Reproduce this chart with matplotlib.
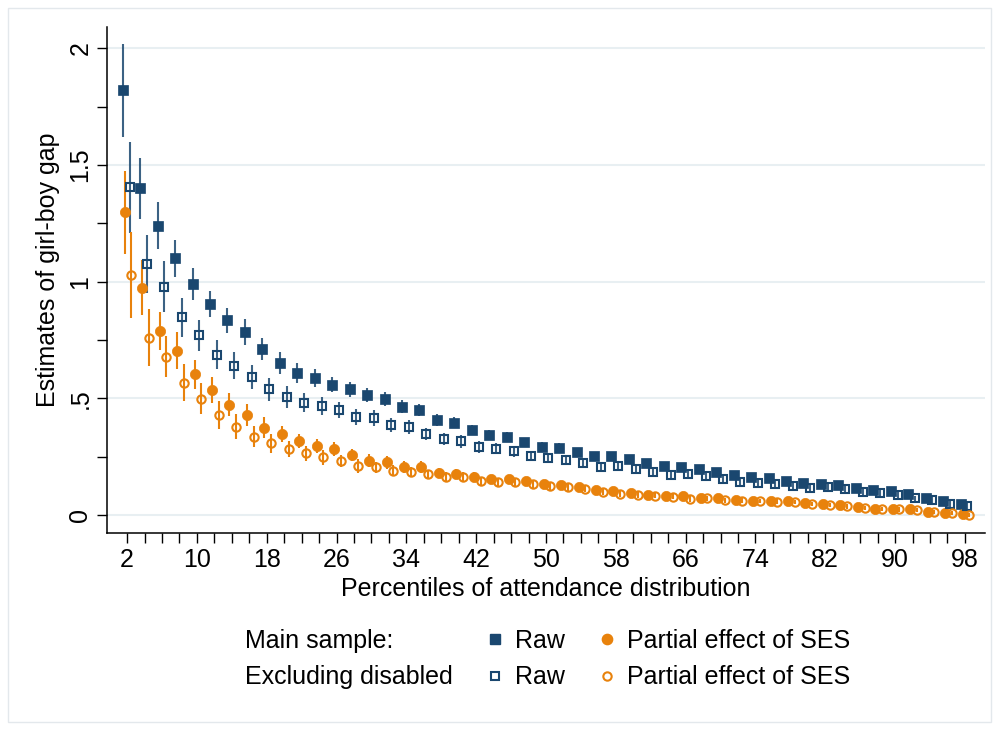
import matplotlib
matplotlib.use("Agg")
import matplotlib.pyplot as plt
from matplotlib.lines import Line2D
from matplotlib.patches import Rectangle
import numpy as np

plt.rcParams['font.family'] = ['Liberation Sans', 'DejaVu Sans']

percentiles = list(range(2, 100, 2))
xtick_labels = [2, 10, 18, 26, 34, 42, 50, 58, 66, 74, 82, 90, 98]

main_raw = [1.82, 1.40, 1.24, 1.10, 0.99, 0.905, 0.834, 0.783, 0.713, 0.653,
            0.61, 0.589, 0.559, 0.539, 0.516, 0.496, 0.464, 0.449, 0.407, 0.396,
            0.366, 0.344, 0.335, 0.313, 0.293, 0.289, 0.27, 0.253, 0.253, 0.24,
            0.222, 0.21, 0.206, 0.198, 0.186, 0.17, 0.164, 0.159, 0.147, 0.139,
            0.133, 0.13, 0.116, 0.106, 0.101, 0.089, 0.074, 0.06, 0.047]
main_raw_ci = [0.20, 0.13, 0.10, 0.08, 0.067, 0.056, 0.053, 0.056, 0.048, 0.047,
               0.043, 0.039, 0.033, 0.032, 0.030, 0.030, 0.027, 0.026, 0.024, 0.023,
               0.022, 0.021, 0.020, 0.019, 0.018, 0.018, 0.017, 0.016, 0.016, 0.015,
               0.015, 0.014, 0.014, 0.013, 0.013, 0.012, 0.012, 0.012, 0.011, 0.011,
               0.011, 0.010, 0.010, 0.010, 0.010, 0.009, 0.009, 0.009, 0.009]

main_ses = [1.297, 0.975, 0.789, 0.705, 0.604, 0.536, 0.473, 0.427, 0.375, 0.347,
            0.316, 0.297, 0.282, 0.257, 0.233, 0.226, 0.206, 0.206, 0.181, 0.176,
            0.164, 0.154, 0.153, 0.146, 0.134, 0.127, 0.12, 0.107, 0.101, 0.096,
            0.087, 0.083, 0.083, 0.075, 0.071, 0.064, 0.061, 0.06, 0.059, 0.051,
            0.047, 0.041, 0.036, 0.027, 0.027, 0.024, 0.014, 0.01, 0.003]
main_ses_ci = [0.178, 0.119, 0.083, 0.080, 0.062, 0.056, 0.050, 0.047, 0.046, 0.036,
               0.030, 0.029, 0.031, 0.027, 0.028, 0.028, 0.024, 0.024, 0.022, 0.020,
               0.019, 0.018, 0.017, 0.016, 0.016, 0.015, 0.014, 0.014, 0.013, 0.013,
               0.012, 0.012, 0.011, 0.011, 0.011, 0.010, 0.010, 0.010, 0.010, 0.009,
               0.009, 0.009, 0.009, 0.008, 0.008, 0.008, 0.008, 0.008, 0.008]

excl_raw = [1.406, 1.076, 0.979, 0.847, 0.771, 0.687, 0.64, 0.592, 0.539, 0.504,
            0.482, 0.467, 0.451, 0.421, 0.416, 0.384, 0.377, 0.348, 0.326, 0.316,
            0.291, 0.285, 0.273, 0.253, 0.243, 0.234, 0.222, 0.207, 0.21, 0.197,
            0.184, 0.173, 0.174, 0.167, 0.153, 0.143, 0.139, 0.133, 0.124, 0.114,
            0.121, 0.113, 0.1, 0.093, 0.086, 0.071, 0.064, 0.047, 0.039]
excl_raw_ci = [0.195, 0.124, 0.108, 0.083, 0.067, 0.062, 0.057, 0.052, 0.050, 0.047,
               0.041, 0.039, 0.034, 0.033, 0.033, 0.030, 0.031, 0.026, 0.027, 0.027,
               0.025, 0.024, 0.023, 0.022, 0.021, 0.020, 0.020, 0.019, 0.019, 0.018,
               0.018, 0.017, 0.017, 0.016, 0.016, 0.015, 0.015, 0.015, 0.014, 0.014,
               0.014, 0.013, 0.013, 0.013, 0.012, 0.012, 0.012, 0.012, 0.012]

excl_ses = [1.029, 0.76, 0.679, 0.567, 0.498, 0.429, 0.379, 0.336, 0.307, 0.283,
            0.264, 0.247, 0.23, 0.211, 0.204, 0.19, 0.183, 0.174, 0.164, 0.164,
            0.146, 0.141, 0.14, 0.131, 0.123, 0.12, 0.113, 0.1, 0.09, 0.086,
            0.083, 0.079, 0.07, 0.071, 0.064, 0.061, 0.06, 0.057, 0.056, 0.048,
            0.043, 0.037, 0.031, 0.026, 0.024, 0.021, 0.012, 0.009, 0.001]
excl_ses_ci = [0.185, 0.122, 0.089, 0.080, 0.066, 0.060, 0.052, 0.045, 0.040, 0.033,
               0.033, 0.031, 0.026, 0.030, 0.023, 0.024, 0.022, 0.021, 0.020, 0.019,
               0.018, 0.017, 0.017, 0.016, 0.015, 0.015, 0.014, 0.014, 0.013, 0.013,
               0.012, 0.012, 0.012, 0.011, 0.011, 0.011, 0.010, 0.010, 0.010, 0.010,
               0.009, 0.009, 0.009, 0.009, 0.009, 0.008, 0.008, 0.008, 0.008]

NAVY = "#1a476f"
ORANGE = "#e8820c"
GRID = "#e8eff2"
FS = 18

fig = plt.figure(figsize=(9.99, 7.30), dpi=100)
W, H = 999, 730
ax = fig.add_axes([107 / W, 1 - 533 / H, (985 - 107) / W, (533 - 27) / H])

# outer frame of the graph region
fig.add_artist(Rectangle((8 / W, 8 / H), (991 - 8) / W, (722 - 8) / H,
                         transform=fig.transFigure, fill=False,
                         edgecolor="#e3e8ec", linewidth=1.0))

pct = np.array(percentiles, dtype=float)
series = [
    (main_raw, main_raw_ci, -0.50, 's', NAVY, True, 7.0, 0.85),
    (main_ses, main_ses_ci, -0.27, 'o', ORANGE, True, 7.4, 1.0),
    (excl_raw, excl_raw_ci, 0.28, 's', NAVY, False, 6.0, 0.85),
    (excl_ses, excl_ses_ci, 0.50, 'o', ORANGE, False, 6.0, 1.0),
]
for vals, ci, off, mk, col, filled, ms, ealpha in series:
    v = np.array(vals)
    c = np.array(ci)
    x = pct + off
    ax.vlines(x, v - c, v + c, colors=col, linewidth=1.5, alpha=ealpha, zorder=2)
    if filled:
        ax.plot(x, v, linestyle='none', marker=mk, markersize=ms,
                markerfacecolor=col, markeredgecolor=col, markeredgewidth=0.5, zorder=3)
    else:
        ax.plot(x, v, linestyle='none', marker=mk, markersize=ms,
                markerfacecolor='none', markeredgecolor=col, markeredgewidth=1.5, zorder=3)

ax.set_xlim(-0.3, 100.3)
ax.set_ylim(-0.077, 2.092)

ax.set_xticks(xtick_labels)
ax.set_xticklabels([str(t) for t in xtick_labels])
ax.set_xticks(percentiles, minor=True)
ax.set_yticks([0, 0.5, 1, 1.5, 2])
ax.set_yticklabels(["0", ".5", "1", "1.5", "2"], rotation=90, va='center')
ax.set_yticks([0.25, 0.75, 1.25, 1.75], minor=True)

for which in ('major', 'minor'):
    ax.tick_params(axis='both', which=which, length=7.5, width=1.0, color='black',
                   direction='out')
ax.tick_params(axis='both', which='major', labelsize=FS, pad=3)

ax.grid(True, axis='y', which='major', color=GRID, linewidth=1.5, zorder=0)
ax.set_axisbelow(True)

for s in ('top', 'right'):
    ax.spines[s].set_visible(False)
for s in ('left', 'bottom'):
    ax.spines[s].set_linewidth(1.1)

ax.set_xlabel("Percentiles of attendance distribution", fontsize=FS, labelpad=4)
ax.set_ylabel("Estimates of girl-boy gap", fontsize=FS, labelpad=4)
ax.yaxis.set_label_coords(-0.054, 0.52)

# legend: 3 columns (group label, Raw, Partial effect of SES)
blank = Line2D([], [], linestyle='none', marker=None)
h_mr = Line2D([], [], linestyle='none', marker='s', markersize=7.0, color=NAVY)
h_er = Line2D([], [], linestyle='none', marker='s', markersize=6.0,
              markerfacecolor='none', markeredgecolor=NAVY, markeredgewidth=1.5)
h_ms = Line2D([], [], linestyle='none', marker='o', markersize=7.4, color=ORANGE)
h_es = Line2D([], [], linestyle='none', marker='o', markersize=6.0,
              markerfacecolor='none', markeredgecolor=ORANGE, markeredgewidth=1.5)
handles = [blank, blank, h_mr, h_er, h_ms, h_es]
labels = ["Main sample:", "Excluding disabled", "Raw", "Raw",
          "Partial effect of SES", "Partial effect of SES"]
fig.legend(handles, labels, ncol=3, loc='center', bbox_to_anchor=(534 / W, 1 - 659 / H),
           frameon=False, fontsize=FS, handlelength=0.6, handletextpad=0.5,
           columnspacing=1.4, labelspacing=0.5, borderpad=0)

fig.savefig("out.png", dpi=100, facecolor='white')
